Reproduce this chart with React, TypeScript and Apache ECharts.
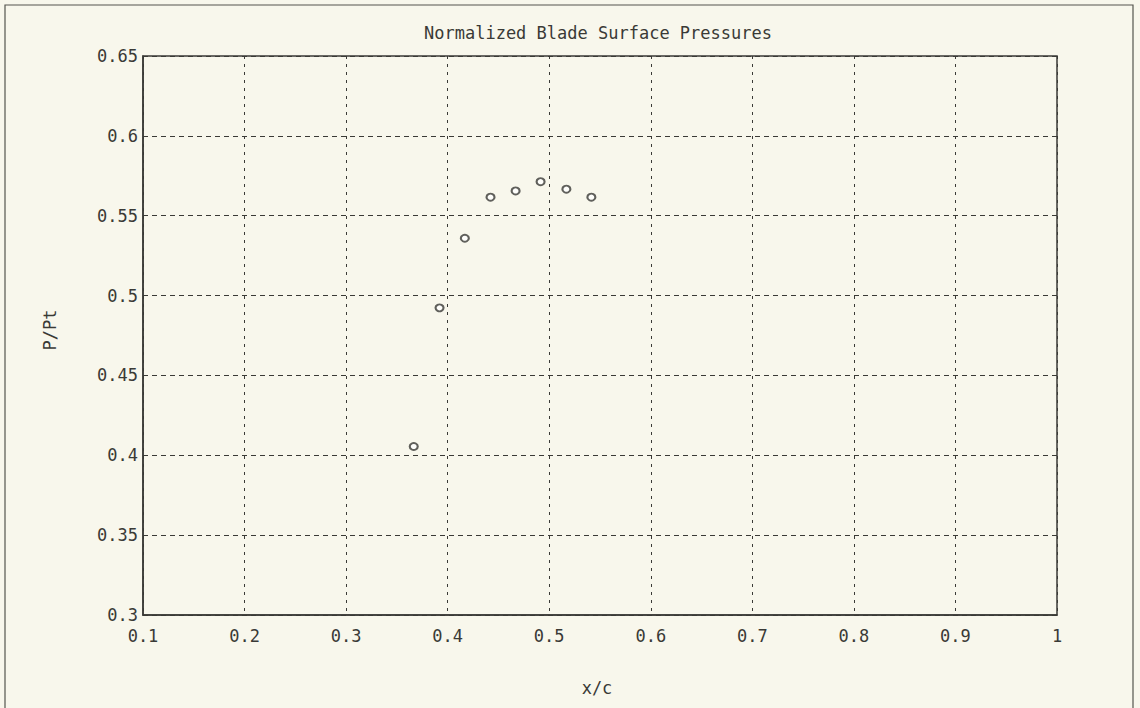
import React, { useEffect, useRef } from "react";
import * as echarts from "echarts";

const xValues = [0.3666, 0.392, 0.4169, 0.4422, 0.4669, 0.4915, 0.5169, 0.5415];
const yValues = [0.4055, 0.4923, 0.5359, 0.5616, 0.5655, 0.5713, 0.5666, 0.5616];
const title = "Normalized Blade Surface Pressures";
const xLabel = "x/c";
const yLabel = "P/Pt";

export default function App() {
  const ref = useRef<HTMLDivElement>(null);
  useEffect(() => {
    document.body.style.margin = "0";
    const chart = echarts.init(ref.current!, undefined, { renderer: "svg" });
    const ink = "#3a3a36";
    const font = "DejaVu Sans Mono";
    chart.setOption({
      animation: false,
      backgroundColor: "#f8f7ec",
      graphic: [
        {
          type: "rect",
          shape: { x: 5, y: 5, width: 1128, height: 720 },
          style: { fill: "none", stroke: "#55554f", lineWidth: 1.2 },
          silent: true,
        },
        {
          type: "text",
          x: 598,
          y: 33,
          style: {
            text: title,
            fill: ink,
            font: `17px "${font}"`,
            align: "center",
            verticalAlign: "middle",
          },
        },
        {
          type: "text",
          x: 50,
          y: 330,
          rotation: Math.PI / 2,
          style: {
            text: yLabel,
            fill: ink,
            font: `17px "${font}"`,
            align: "center",
            verticalAlign: "middle",
          },
        },
        {
          type: "text",
          x: 597,
          y: 688,
          style: {
            text: xLabel,
            fill: ink,
            font: `17px "${font}"`,
            align: "center",
            verticalAlign: "middle",
          },
        },
      ],
      grid: {
        left: 143,
        top: 56,
        right: 83,
        bottom: 93,
        show: true,
        borderColor: ink,
        borderWidth: 1.5,
        backgroundColor: "transparent",
      },
      xAxis: {
        type: "value",
        min: 0.1,
        max: 1,
        interval: 0.1,
        axisLine: { show: true, lineStyle: { color: ink, width: 1.5 } },
        axisTick: { show: false },
        axisLabel: {
          color: ink,
          fontFamily: font,
          fontSize: 17,
          margin: 12,
          formatter: (v: number) => String(Math.round(v * 10) / 10),
        },
        splitLine: {
          show: true,
          lineStyle: { color: ink, width: 1, type: [3, 5] },
        },
      },
      yAxis: {
        type: "value",
        min: 0.3,
        max: 0.65,
        interval: 0.05,
        axisLine: { show: true, lineStyle: { color: ink, width: 1.5 } },
        axisTick: { show: false },
        axisLabel: {
          color: ink,
          fontFamily: font,
          fontSize: 17,
          margin: 5,
          formatter: (v: number) => String(Math.round(v * 100) / 100),
        },
        splitLine: {
          show: true,
          lineStyle: { color: ink, width: 1, type: [5, 4] },
        },
      },
      series: [
        {
          type: "scatter",
          data: xValues.map((x, i) => [x, yValues[i]]),
          symbol: "emptyCircle",
          symbolSize: [8, 7],
          itemStyle: { color: ink, borderColor: ink, borderWidth: 1.2 },
        },
      ],
    });
    return () => chart.dispose();
  }, []);
  return <div ref={ref} style={{ width: 1140, height: 708 }} />;
}
